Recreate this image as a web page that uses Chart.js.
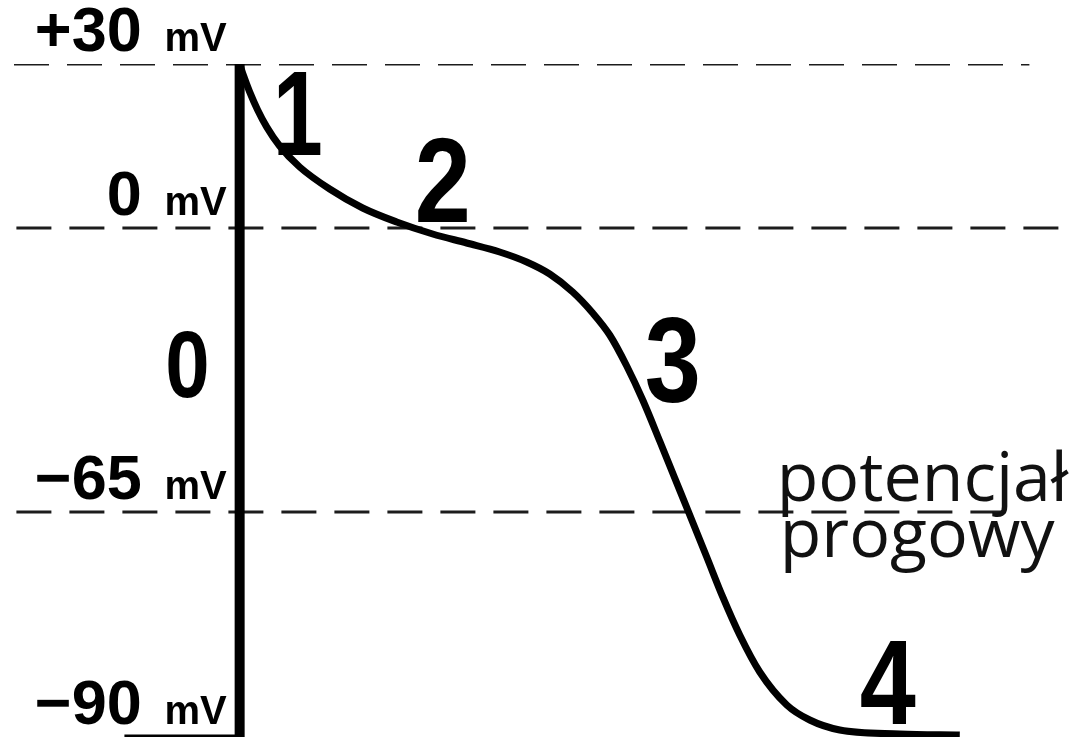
<!DOCTYPE html>
<html>
<head>
<meta charset="utf-8">
<script src="https://cdn.jsdelivr.net/npm/chart.js@4.4.1/dist/chart.umd.min.js"></script>
<style>
    html, body { margin: 0; padding: 0; background: #fff; }
    #wrap { width: 1075px; height: 741px; position: relative; }
</style>
</head>
<body>
<div id="wrap"><canvas id="ap-chart"></canvas></div>
<script>
// time in ms (0 = upstroke), membrane potential in mV
const restTime = [-48, 0];
const restMv = [-90, -90];
const upstrokeTime = [0, 0];
const upstrokeMv = [-90, 30];
const repolTime = [0, 1.67, 4.17, 7.5, 11.25, 16.67, 25, 37.5, 51.25, 65.42, 80.42, 94.58, 108.33, 119.58, 129.17, 138.75, 147.08, 154.17, 161.25, 167.92, 175, 181.25, 186.67, 194.58, 201.25, 208.33, 216.67, 227.92, 237.5, 250, 275, 300];
const repolMv = [30, 27.8, 24.9, 21.6, 18.5, 15, 11.16, 7.13, 3.66, 1.1, -1.37, -3.43, -5.49, -7.78, -10.53, -14.65, -19.45, -24.49, -31.58, -39.37, -48.75, -57.22, -64.54, -70, -74.44, -78.67, -82.78, -86.44, -88.11, -89.22, -89.67, -89.78];

// dashed reference levels
const levelMv = [30, 0, -65];
const levelStart = [-94, -93, -93];
const levelEnd = [329, 346, 325];

// axis labels
const tickMv = [30, 0, -65, -90];
const tickText = ['+30', '0', '\u221265', '\u221290'];
const unitText = 'mV';

// phase numbers (anchored at bottom centre of each digit)
const phaseText = ['0', '1', '2', '3', '4'];
const phaseTime = [-21.7, 24.2, 84.6, 180.4, 270];
const phaseMv = [-38.7, 13.4, 1.1, -39.8, -88.5];

const thresholdText = ['potencjał', 'progowy'];
const thresholdTime = 223.75;
const thresholdMv = -65;

// the drawing is not to scale: each mV band gets its own share of the height
const yStops = [[-90, 0], [-65, 0.3343], [0, 0.7563], [30, 1]];

class PiecewiseScale extends Chart.LinearScale {
    getPixelForValue(value) {
        let dec = 0;
        for (let i = 1; i < yStops.length; i++) {
            const [v0, f0] = yStops[i - 1];
            const [v1, f1] = yStops[i];
            if (value <= v1 || i === yStops.length - 1) {
                dec = f0 + (value - v0) / (v1 - v0) * (f1 - f0);
                break;
            }
        }
        return this.getPixelForDecimal(dec);
    }
    getValueForPixel(pixel) {
        const dec = this.getDecimalForPixel(pixel);
        for (let i = 1; i < yStops.length; i++) {
            const [v0, f0] = yStops[i - 1];
            const [v1, f1] = yStops[i];
            if (dec <= f1 || i === yStops.length - 1) {
                return v0 + (dec - f0) / (f1 - f0) * (v1 - v0);
            }
        }
    }
}
PiecewiseScale.id = 'piecewise';
PiecewiseScale.defaults = Chart.LinearScale.defaults;
Chart.register(PiecewiseScale);

const toPoints = (xs, ys) => xs.map((v, i) => ({x: v, y: ys[i]}));

const datasets = [
    {
        label: 'resting',
        data: toPoints(restTime, restMv),
        borderColor: '#000',
        borderWidth: 5,
        order: 1
    },
    {
        label: 'upstroke',
        data: toPoints(upstrokeTime, upstrokeMv),
        borderColor: '#000',
        borderWidth: 10,
        order: 1
    },
    {
        label: 'repolarization',
        data: toPoints(repolTime, repolMv),
        borderColor: '#000',
        borderWidth: 7,
        cubicInterpolationMode: 'monotone',
        order: 0
    }
];

levelMv.forEach((mv, i) => {
    datasets.push({
        label: 'level ' + mv,
        data: [{x: levelStart[i], y: mv}, {x: levelEnd[i], y: mv}],
        borderColor: '#1c1c1c',
        borderWidth: 3,
        borderDash: [35, 18],
        order: 2
    });
});

const labelsPlugin = {
    id: 'apLabels',
    afterDatasetsDraw(chart) {
        const {ctx, scales: {x, y}} = chart;
        ctx.save();
        ctx.fillStyle = '#000';
        ctx.textAlign = 'center';
        ctx.textBaseline = 'alphabetic';
        phaseText.forEach((t, i) => {
            const size = i === 0 ? 95 : 120;
            const px = x.getPixelForValue(phaseTime[i]);
            const py = y.getPixelForValue(phaseMv[i]);
            ctx.save();
            ctx.translate(px, py);
            ctx.scale(i === 1 ? 0.75 : 0.84, 1);
            ctx.font = 'bold ' + size + 'px "Liberation Sans", Arial, sans-serif';
            ctx.fillText(t, 0, 0);
            ctx.restore();
        });

        const tx = x.getPixelForValue(thresholdTime);
        const ty = y.getPixelForValue(thresholdMv);
        ctx.fillStyle = '#111';
        ctx.textAlign = 'left';
        ctx.font = '68px "Open Sans", sans-serif';
        ctx.fillText(thresholdText[0], tx, ty - 11);
        ctx.fillText(thresholdText[1], tx + 3, ty + 45);
        ctx.restore();
    }
};

// labels are right-aligned at the time value given in `at`
const yAxis = function (text, size, at, offset) {
    return {
        type: 'piecewise',
        axis: 'y',
        min: -90,
        max: 30,
        position: {x: at},
        afterBuildTicks: function (scale) {
            scale.ticks = tickMv.map(v => ({value: v}));
        },
        grid: {display: false},
        border: {display: false},
        ticks: {
            autoSkip: false,
            callback: text,
            color: '#000',
            font: {family: '"Liberation Sans", Arial, sans-serif', size: size, weight: 'bold', lineHeight: 0.1},
            padding: 0,
            labelOffset: offset
        }
    };
};

const chart = new Chart(document.getElementById('ap-chart'), {
    type: 'line',
    data: {datasets: datasets},
    options: {
        responsive: true,
        maintainAspectRatio: false,
        animation: false,
        layout: {padding: {left: 14, right: 0, top: 64, bottom: 4}},
        elements: {
            point: {radius: 0},
            line: {tension: 0, borderCapStyle: 'butt'}
        },
        scales: {
            x: {type: 'linear', min: -94, max: 348, display: false},
            y: yAxis((v, i) => tickText[i], 63, -40.8, -30),
            yUnit: yAxis(() => unitText, 40, -5.4, -24)
        },
        plugins: {
            legend: {display: false},
            tooltip: {enabled: false}
        }
    },
    plugins: [labelsPlugin]
});
</script>
</body>
</html>
